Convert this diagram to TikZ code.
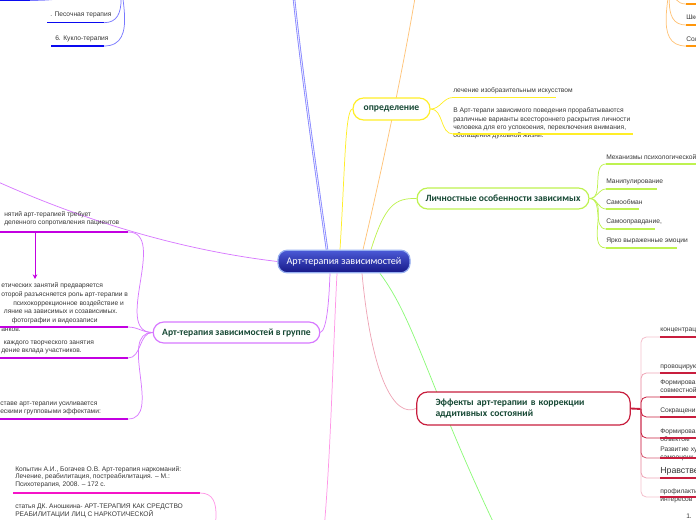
\documentclass[tikz,border=0pt]{standalone}
\usepackage{fontspec}
\setmainfont{Liberation Sans}
\newfontfamily\headfont{Carlito}
\usetikzlibrary{positioning, calc, arrows.meta, backgrounds}

\definecolor{headtext}{RGB}{22,72,52}
\definecolor{leaftext}{RGB}{55,55,55}
\definecolor{bluebr}{RGB}{120,120,255}
\definecolor{blueul}{RGB}{10,10,240}
\definecolor{orangebr}{RGB}{255,195,120}
\definecolor{orangeul}{RGB}{255,150,10}
\definecolor{yellowbr}{RGB}{255,238,40}
\definecolor{limebr}{RGB}{190,242,80}
\definecolor{greenbr}{RGB}{140,250,120}
\definecolor{violetbr}{RGB}{215,120,255}
\definecolor{violetul}{RGB}{195,0,225}
\definecolor{pinkbr}{RGB}{255,150,230}
\definecolor{pinkul}{RGB}{245,20,200}
\definecolor{crimsonbr}{RGB}{200,30,62}
\definecolor{crimsonmd}{RGB}{215,90,115}
\definecolor{crimsonlt}{RGB}{238,165,182}
\definecolor{rootdark}{RGB}{22,24,135}
\definecolor{rootlight}{RGB}{75,90,215}
\definecolor{rootedge}{RGB}{150,175,240}

\tikzset{
    root/.style={rectangle, rounded corners=7pt, draw=rootedge, line width=0.9pt, top color=rootlight, bottom color=rootdark, text=white, inner sep=0pt, font=\headfont\fontsize{7.6}{9}\selectfont},
    topic/.style={rectangle, rounded corners=8pt, fill=white, line width=0.9pt, inner sep=0pt, text=headtext, font=\headfont\bfseries\fontsize{7.2}{8.6}\selectfont},
    leaf/.style={anchor=west, inner sep=0pt, align=left, text=leaftext, font=\fontsize{5}{6.1}\selectfont},
    branch/.style={line width=0.55pt},
    uline/.style={line width=1.2pt},
    elbow/.style={line width=0.6pt, rounded corners=4pt}
}

\begin{document}
\begin{tikzpicture}[x=0.75pt, y=-0.75pt]
    \useasboundingbox (0,0) rectangle (696,520);
    \clip (0,0) rectangle (696,520);

    % ---------------------------------------------------------------
    % CENTRE AND MAIN TOPICS
    % ---------------------------------------------------------------
    \node[root, minimum width=99pt, minimum height=17pt] (root) at (344,261.5) {Арт-терапия зависимостей};

    \node[topic, draw=yellowbr, minimum width=57.75pt, minimum height=16.5pt] (defn) at (391.5,109) {определение};
    \node[topic, draw=limebr, minimum width=129pt, minimum height=15.75pt] (traits) at (503,198.5) {Личностные особенности зависимых};
    \node[topic, draw=violetbr, minimum width=125pt, minimum height=15.75pt] (group) at (236.5,332.5) {Арт-терапия зависимостей в группе};
    \node[topic, draw=crimsonbr, align=left, text width=132pt, inner xsep=14pt, minimum height=24.75pt] (effects) at (523.5,408.5) {Эффекты арт-терапии в коррекции\\аддитивных состояний};

    % branches leaving the picture
    \coordinate (blueOff) at (292,-20);
    \coordinate (orangeOff) at (418,-20);
    \coordinate (leftOff) at (-15,176);
    \coordinate (pinkOff) at (324,530);
    \coordinate (greenOff) at (497,530);
    \coordinate (blueHub) at (118,-45);
    \coordinate (orangeHub) at (672,-40);
    \coordinate (refHub) at (212,560);

    \begin{scope}[on background layer]
        \draw[draw=bluebr, double=blue!10, double distance=0.8pt, line width=0.5pt] ($(root.north)+(-17,0)$) .. controls (313,150) and (300,60) .. (blueOff);
        \draw[branch, orangebr] ($(root.north)+(19,0)$) .. controls (382,170) and (405,60) .. (orangeOff);
        \draw[branch, yellowbr] ($(root.north)+(-4,0)$) .. controls (345,170) and (345,110) .. (defn.west);
        \draw[branch, limebr] ($(root.north)+(27,0)$) .. controls (385,205) and (395,198) .. (traits.west);
        \draw[branch, violetbr] (root.west) .. controls (180,250) and (80,220) .. (leftOff);
        \draw[branch, violetbr] ($(root.south)+(-14,0)$) .. controls (329,300) and (327,330) .. (group.east);
        \draw[branch, pinkbr] ($(root.south)+(-7,0)$) .. controls (333,350) and (331,450) .. (pinkOff);
        \draw[branch, crimsonlt] ($(root.south)+(18,0)$) .. controls (372,380) and (395,418) .. (effects.west);
        \draw[branch, greenbr] ($(root.south)+(36,0)$) .. controls (415,320) and (430,390) .. (greenOff);
    \end{scope}

    % ---------------------------------------------------------------
    % TOP LEFT (blue) AND TOP RIGHT (orange)
    % ---------------------------------------------------------------
    \coordinate (bluA) at (30,0.5);
    \coordinate (bluB) at (104,22.7);
    \coordinate (bluC) at (104,46);
    \node[leaf] (bluTxtB) at (50,15) {. Песочная терапия};
    \node[leaf] (bluTxtC) at (55,39) {6. Кукло-терапия};
    \draw[uline, blueul] (bluA) -- ++(-35,0);
    \draw[uline, blueul] (bluB) -- ++(-57,0);
    \draw[uline, blueul] (bluC) -- ++(-53,0);
    \draw[branch, bluebr] (blueHub) to[out=-90, in=0] (bluA);
    \draw[branch, bluebr] (blueHub) to[out=-90, in=0] (bluB);
    \draw[branch, bluebr] (blueHub) to[out=-90, in=0] (bluC);

    \coordinate (orgA) at (686,4);
    \coordinate (orgB) at (686,25);
    \coordinate (orgC) at (686,46);
    \node[leaf] (orgTxtA) at (688,-3) {Гру};
    \node[leaf] (orgTxtB) at (686,17) {Шко};
    \node[leaf] (orgTxtC) at (686,39) {Сол};
    \draw[uline, orangeul] (orgA) -- ++(20,0);
    \draw[uline, orangeul] (orgB) -- ++(20,0);
    \draw[uline, orangeul] (orgC) -- ++(20,0);
    \draw[branch, orangebr] (orangeHub) to[out=-90, in=180] (orgA);
    \draw[branch, orangebr] (orangeHub) to[out=-90, in=180] (orgB);
    \draw[branch, orangebr] (orangeHub) to[out=-90, in=180] (orgC);

    % ---------------------------------------------------------------
    % ОПРЕДЕЛЕНИЕ
    % ---------------------------------------------------------------
    \coordinate (defA) at (453,97.5);
    \coordinate (defB) at (453,134);
    \node[leaf] (defTxtA) at (453,91) {лечение изобразительным искусством};
    \node[leaf, font=\fontsize{5}{6.2}\selectfont] (defTxtB) at (453,123.5) {В Арт-терапи зависимого поведения прорабатываются\\различные варианты всестороннего раскрытия личности\\человека для его успокоения, переключения внимания,\\обогащения духовной жизни.};
    \draw[uline, yellowbr] (defA) -- ++(103,0);
    \draw[uline, yellowbr] (defB) -- ++(180,0);
    \draw[branch, yellowbr] (defn.east) to[out=0, in=180] (defA);
    \draw[branch, yellowbr] (defn.east) to[out=0, in=180] (defB);

    % ---------------------------------------------------------------
    % ЛИЧНОСТНЫЕ ОСОБЕННОСТИ
    % ---------------------------------------------------------------
    \foreach \ty/\tlen/\ttext [count=\i] in {164/90/{Механизмы психологической з}, 189/51/{Манипулирование}, 209/33/{Самообман}, 229/49/{Самооправдание,}, 248/71/{Ярко выраженные эмоции}} {
        \coordinate (traitUl\i) at (606,\ty);
        \node[leaf] (trait\i) at (606,\ty-7) {\ttext};
        \draw[uline, limebr] (traitUl\i) -- ++(\tlen,0);
        \draw[branch, limebr] (traits.east) to[out=0, in=180] (traitUl\i);
    }

    % ---------------------------------------------------------------
    % ЭФФЕКТЫ
    % ---------------------------------------------------------------
    \coordinate (effHub) at (641,409);
    \draw[crimsonbr, line width=1.4pt] (effects.east) -- (effHub);

    \coordinate (effA) at (660,337);
    \coordinate (effB) at (660,373);
    \coordinate (effC) at (660,397);
    \coordinate (effD) at (660,417);
    \coordinate (effE) at (660,438);
    \coordinate (effF) at (660,458);
    \coordinate (effG) at (660,478);
    \coordinate (effH) at (660,497);

    \draw[elbow, crimsonlt!70] (effHub) |- (effA);
    \draw[elbow, crimsonlt!70] (effHub) |- (effH);
    \draw[elbow, crimsonlt] (effHub) |- (effB);
    \draw[elbow, crimsonlt] (effHub) |- (effG);
    \draw[elbow, crimsonmd] (effHub) |- (effF);
    \draw[elbow, crimsonbr] (effHub) |- (effC);
    \draw[elbow, crimsonbr] (effHub) |- (effE);
    \draw[elbow, crimsonbr] (effHub) |- (effD);

    \node[leaf] (effTxtA) at (660,330.5) {концентрац};
    \node[leaf] (effTxtB) at (660,367) {провоцирую};
    \node[leaf] (effTxtC) at (660,386.5) {Формирова\\совместной};
    \node[leaf] (effTxtD) at (660,411) {Сокращени};
    \node[leaf] (effTxtE) at (660,435) {Формирова\\объектом};
    \node[leaf] (effTxtF) at (660,454) {Развитие ху\\самооценк};
    \node[leaf, font=\fontsize{6.6}{8}\selectfont] (effTxtG) at (660,471) {Нравственн};
    \node[leaf] (effTxtH) at (660,495.5) {профилакти\\интересов};
    \node[leaf] (effTxtI) at (686,516) {1.};

    \foreach \e in {A,B,C,D,E,F,G,H}
        \draw[uline, crimsonbr] (eff\e) -- ++(40,0);

    % ---------------------------------------------------------------
    % В ГРУППЕ
    % ---------------------------------------------------------------
    \coordinate (grpA) at (128,232);
    \coordinate (grpB) at (128,327);
    \coordinate (grpC) at (128,358);
    \coordinate (grpD) at (128,419);

    \node[leaf] (grpTxtA) at (4,219) {нятий арт-терапией требует\\деленного сопротивления пациентов};
    \node[leaf, font=\fontsize{5}{6.6}\selectfont] (grpTxtB) at (1,307) {етических занятий предваряется\\оторой разъясняется роль арт-терапии в\\\hspace*{9pt}психокоррекционное воздействие и\\\hspace*{2pt}ляние на зависимых и созависимых.\\\hspace*{8pt}фотографии и видеозаписи\\анков.};
    \node[leaf] (grpTxtC) at (1,347.5) {\hspace*{2pt}каждого творческого занятия\\дение вклада участников.};
    \node[leaf] (grpTxtD) at (0,408) {ставе арт-терапии усиливается\\ескими групповыми эффектами:};

    \foreach \g in {A,B,C,D} {
        \draw[uline, violetul] (grp\g) -- ++(-140,0);
        \draw[branch, violetbr] (group.west) to[out=180, in=0] (grp\g);
    }

    \coordinate (arrS) at (35,232);
    \coordinate (arrE) at (35,279);
    \draw[violetul, line width=0.7pt, -{Stealth[length=3.5pt, width=3.5pt]}] (arrS) -- (arrE);

    % ---------------------------------------------------------------
    % ЛИТЕРАТУРА
    % ---------------------------------------------------------------
    \coordinate (refA) at (200,493);
    \node[leaf, font=\fontsize{5}{5.8}\selectfont] (refTxtA) at (15,477) {Копытин А.И., Богачев О.В. Арт-терапия наркоманий:\\Лечение, реабилитация, постреабилитация. -- М.:\\Психотерапия, 2008. -- 172 с.};
    \node[leaf, font=\fontsize{5}{5.8}\selectfont] (refTxtB) at (15,510.5) {статья ДК. Аношкина- АРТ-ТЕРАПИЯ КАК СРЕДСТВО\\РЕАБИЛИТАЦИИ ЛИЦ С НАРКОТИЧЕСКОЙ};
    \draw[uline, pinkul] (refA) -- ++(-187,0);
    \draw[branch, pinkbr] (refHub) to[out=90, in=0] (refA);

\end{tikzpicture}
\end{document}
